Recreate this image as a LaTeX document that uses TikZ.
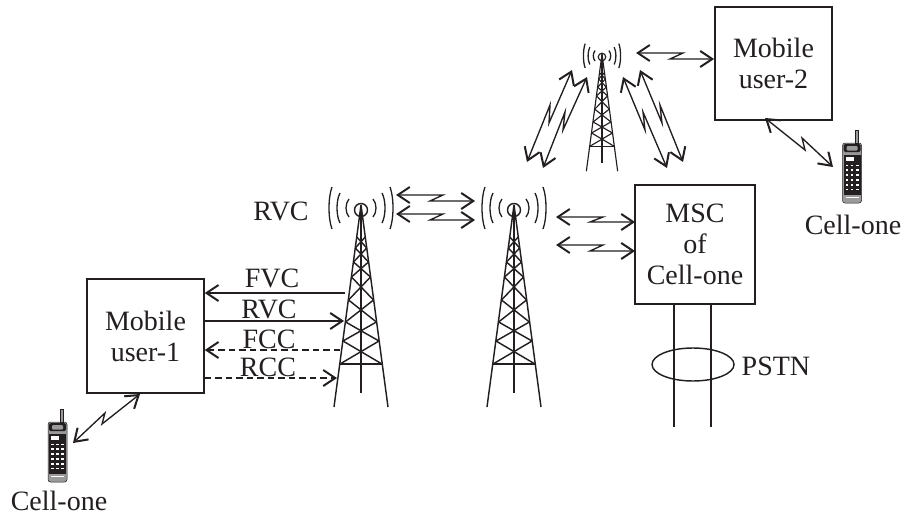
\documentclass[tikz,border=0pt]{standalone}
\usepackage{fontspec}
\setmainfont{Liberation Serif}
\usetikzlibrary{arrows.meta,shapes.geometric}
\definecolor{ink}{HTML}{231F20}
\definecolor{phgray}{HTML}{9A9A9A}
\tikzset{
  every node/.style={text=ink,font=\fontsize{28}{31}\selectfont,inner sep=0pt},
  lbl/.style={anchor=base},
  boxn/.style={draw=ink,line width=1.5pt,align=center,minimum width=117pt},
  arr/.style={-{Straight Barb[length=12pt,width=16pt,line width=2pt]}},
  dbl/.style={{Straight Barb[length=12pt,width=16pt,line width=2pt]}-{Straight Barb[length=12pt,width=16pt,line width=2pt]}},
  dsh/.style={dash pattern=on 6.5pt off 4pt},
  tower/.pic={
    \foreach \s in {-1,1}{
      \foreach \o/\h in {15/9,24/15,32/21}{
        \draw[line width=1.3pt] (\s*\o-\s*3,-\h-2) .. controls (\s*\o+\s*1,-\h/2-2) and (\s*\o+\s*1,\h/2-2) .. (\s*\o-\s*3,\h-2);
      }
      \draw (0,-5) -- (\s*27,197);
    }
    \draw (0,0) circle (6.5);
    \draw (0,-3) -- (0,183);
    \draw (-21,154) -- (21,154);
    \foreach \a/\wa/\b/\wb in {154/21/131/18,131/18/112/15.4,112/15.4/90/12.5,90/12.5/67/9.5,67/9.5/52/7.5,52/7.5/38/5.7,38/5.7/27/4.2}{
      \draw (-\wa,\a) -- (\wb,\b);
      \draw (\wa,\a) -- (-\wb,\b);
    }
  },
  handset/.pic={
    \fill[phgray,draw=ink,line width=.5pt,rounded corners=2.5pt] (0,0) rectangle (19,60);
    \fill[phgray,draw=ink,line width=.4pt] (12.5,-13) rectangle (15.5,0);
    \fill[ink,rounded corners=1.5pt] (1,1) rectangle (18,9);
    \fill[phgray,rounded corners=1pt] (4,3) rectangle (15,7.5);
    \fill[ink] (1,12) rectangle (18,52);
    \fill[white] (3,14) rectangle (11,18);
    \foreach \r in {0,...,5}{
      \foreach \c in {0,1,2}{
        \fill[white] (3+\c*5.2,21.5+\r*4.8) rectangle ++(2.6,1.8);
      }
    }
    \fill[white] (3,54) rectangle (16,55);
  },
}
\begin{document}
\begin{tikzpicture}[x=1pt,y=-1pt,line width=1.45pt,color=ink]
\useasboundingbox (0,0) rectangle (904,516);
% boxes
\node[boxn,minimum height=114pt] (u1) at (145.5,336) {Mobile\\user-1};
\node[boxn,minimum height=113pt] (u2) at (773.5,63.5) {Mobile\\user-2};
\node[boxn,minimum width=120pt,minimum height=119pt] (msc) at (695,244.5) {MSC\\of\\Cell-one};
% towers
\pic at (361,210) {tower};
\pic at (514,210) {tower};
\begin{scope}[line width=1.15pt]
\pic[scale=.58] at (602,57) {tower};
\end{scope}
% phones
\pic at (48,422) {handset};
\pic at (842.5,143) {handset};
% labels
\node[lbl] (lfvc) at (272,287) {FVC};
\node[lbl] (lrvc) at (269,318) {RVC};
\node[lbl] (lfcc) at (269,348) {FCC};
\node[lbl] (lrcc) at (268,376) {RCC};
\node[lbl] (lrvt) at (281,220) {RVC};
\node[lbl] (lcl) at (59,510.5) {Cell-one};
\node[lbl] (lcr) at (853,234) {Cell-one};
\node[lbl,anchor=base west] (lpstn) at (741,375) {PSTN};
% end points
\coordinate (tfvc) at (345,293);
\coordinate (trvc) at (344,321);
\coordinate (tfcc) at (340,350);
\coordinate (trcc) at (337,378);
% channels
\draw[arr] (tfvc) -- (tfvc -| u1.east);
\draw[arr] (trvc -| u1.east) -- (trvc);
\draw[arr,dsh] (tfcc) -- (tfcc -| u1.east);
\draw[arr,dsh] (trcc -| u1.east) -- (trcc);
% PSTN
\node[draw=ink,line width=1.45pt,ellipse,minimum width=82pt,minimum height=33pt] (pstn) at (693,364.5) {};
\coordinate (pa) at (674,427);
\coordinate (pb) at (711,427);
\draw (pa |- msc.south) -- (pa);
\draw (pb |- msc.south) -- (pb);
% radio links
\coordinate (a1) at (396,195); \coordinate (b1) at (475,201);
\coordinate (a2) at (396,214); \coordinate (b2) at (475,220);
\coordinate (a3) at (556,217); \coordinate (b3) at (635,222);
\coordinate (a4) at (556,245); \coordinate (b4) at (635,251);
\coordinate (a5) at (636,53);  \coordinate (b5) at (714,59);
\coordinate (a6) at (572,70);  \coordinate (b6) at (527,162);
\coordinate (a7) at (587,77);  \coordinate (b7) at (543,168);
\coordinate (a8) at (623,77);  \coordinate (b8) at (667,168);
\coordinate (a9) at (640,70);  \coordinate (b9) at (683,162);
\coordinate (a10) at (765,118); \coordinate (b10) at (833,167);
\coordinate (a11) at (73,443);  \coordinate (b11) at (140,394);
\begin{scope}[line width=1.35pt,line join=miter]
\draw[dbl] (a1) -- (443,195) -- (430,201) -- (b1);
\draw[dbl] (a2) -- (443,214) -- (430,220) -- (b2);
\draw[dbl] (a3) -- (603,217) -- (590,222) -- (b3);
\draw[dbl] (a4) -- (603,245) -- (590,251) -- (b4);
\draw[dbl] (a5) -- (683,53) -- (670,59) -- (b5);
\draw[dbl] (a6) -- (549,123) -- (550,105) -- (b6);
\draw[dbl] (a7) -- (563,130) -- (565,112) -- (b7);
\draw[dbl] (a8) -- (645,130) -- (643,112) -- (b8);
\draw[dbl] (a9) -- (662,123) -- (660,105) -- (b9);
\draw[dbl] (a10) -- (805,150) -- (802,138) -- (b10);
\draw[dbl] (a11) -- (105,413) -- (102,424) -- (b11);
\end{scope}
\end{tikzpicture}
\end{document}
